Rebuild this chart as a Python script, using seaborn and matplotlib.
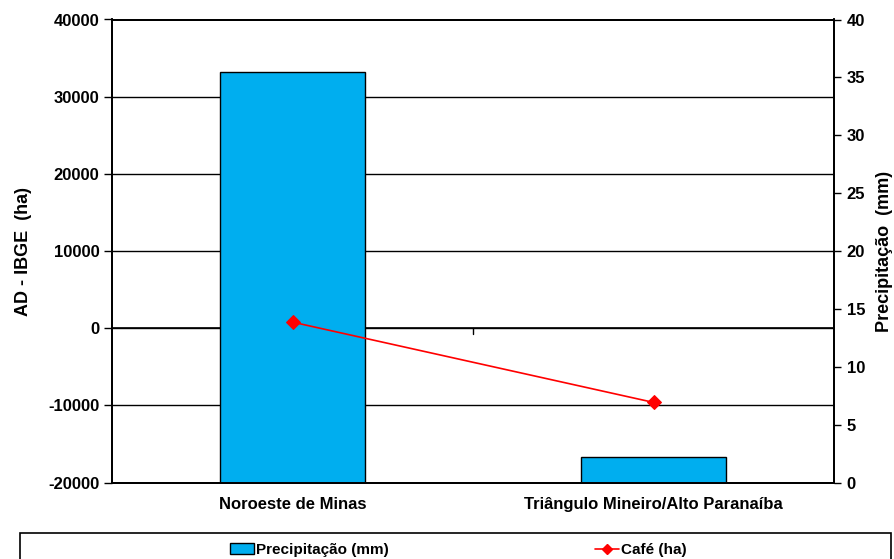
import matplotlib
matplotlib.use("Agg")
import matplotlib.pyplot as plt
import seaborn as sns
import pandas as pd
from matplotlib.patches import Rectangle
from matplotlib.lines import Line2D
from matplotlib.patches import Patch

# data
regions = ["Noroeste de Minas", "Triângulo Mineiro/Alto Paranaíba"]
precip_mm = [35.5, 2.2]
cafe_ha = [800, -9600]

bar_color = "#00AEEF"
line_color = "#FF0000"

sns.set_style("white")
plt.rcParams["font.family"] = ["Liberation Sans", "DejaVu Sans"]
plt.rcParams["font.weight"] = "bold"
plt.rcParams["axes.unicode_minus"] = False
for k in ("text.color", "axes.labelcolor", "xtick.color", "ytick.color"):
    plt.rcParams[k] = "black"

df = pd.DataFrame({"Região": regions, "Precipitação (mm)": precip_mm, "Café (ha)": cafe_ha})

fig = plt.figure(figsize=(8.94, 5.59), dpi=100)
ax = fig.add_axes([112 / 894, 1 - 482.7 / 559, (834 - 112) / 894, (482.7 - 19.5) / 559])

# left axis (ha) with gridlines
ax.set_ylim(-20000, 40000)
ax.set_yticks(range(-20000, 40001, 10000))
ax.yaxis.grid(True, color="black", linewidth=1.0)
ax.set_axisbelow(True)
ax.set_ylabel("AD - IBGE  (ha)", fontsize=13, fontweight="bold", labelpad=12)
ax.tick_params(axis="y", direction="out", length=6, width=1, labelsize=12, pad=3)

# bars on right axis (mm)
axb = ax.twinx()
sns.barplot(data=df, x="Região", y="Precipitação (mm)", ax=axb, color=bar_color,
            width=0.4, edgecolor="black", linewidth=1, saturation=1)
axb.set_ylim(0, 40)
axb.set_yticks(range(0, 41, 5))
axb.set_ylabel("Precipitação  (mm)", fontsize=13, fontweight="bold", labelpad=8)
axb.tick_params(axis="y", direction="out", length=5, width=1, labelsize=12, pad=4)
axb.set_xlabel("")

# line on left scale, drawn above bars
axl = ax.twinx()
sns.lineplot(data=df, x="Região", y="Café (ha)", ax=axl, color=line_color,
             marker="D", markersize=7.5, markeredgecolor=line_color, linewidth=1.2, sort=False)
axl.set_ylim(-20000, 40000)
axl.yaxis.set_visible(False)
axl.set_xlabel("")
axl.set_ylabel("")
for a in (ax, axb, axl):
    a.set_xlim(-0.5, 1.5)

# x axis crossing at zero with a category boundary tick
ax.axhline(0, color="black", linewidth=1.2)
ax.plot([0.5, 0.5], [0, -700], color="black", linewidth=1)

ax.set_xticks([0, 1])
ax.set_xticklabels(regions, fontsize=12, fontweight="bold")
ax.tick_params(axis="x", length=0, pad=10)
axb.tick_params(axis="x", length=0, labelbottom=False)
axl.tick_params(axis="x", length=0, labelbottom=False)
ax.set_xlabel("")

for a in (ax, axb, axl):
    for s in a.spines.values():
        s.set_color("black")
        s.set_linewidth(1.2)

# legend box at the bottom
fig.patches.append(Rectangle((20 / 894, -0.05), 871 / 894, 0.05 + 26 / 559,
                             transform=fig.transFigure, fill=False,
                             edgecolor="black", linewidth=1.2))
handles = [Patch(facecolor=bar_color, edgecolor="black", linewidth=1),
           Line2D([], [], color=line_color, marker="D", markersize=5, linewidth=1.2)]
fig.legend(handles, ["Precipitação (mm)", "Café (ha)"], loc="center",
           bbox_to_anchor=(458 / 894, 1 - 550 / 559), ncol=2, frameon=False,
           fontsize=11, handlelength=1.6, handletextpad=0.1, columnspacing=13.5)

fig.savefig("out.png", dpi=100)
